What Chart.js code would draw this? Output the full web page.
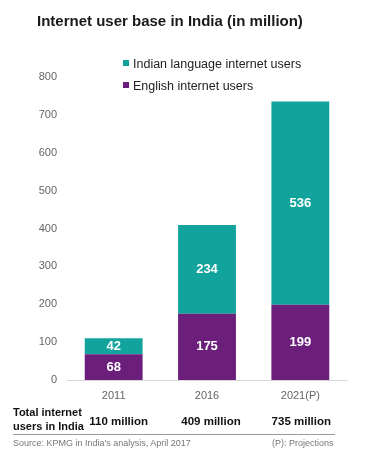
<!DOCTYPE html>
<html>
<head>
<meta charset="utf-8">
<script src="https://cdn.jsdelivr.net/npm/chart.js@4.4.0/dist/chart.umd.min.js"></script>
<style>
  body { margin: 0; background: #fff; font-family: "Liberation Sans", Arial, sans-serif; }
  #wrap { position: relative; width: 377px; height: 463px; overflow: hidden; }
  #c { position: absolute; left: 0; top: 0; }
  .title { position: absolute; left: 37px; top: 12px; font-size: 15px; font-weight: bold; color: #1a1a1a; white-space: nowrap; }
  .leg { position: absolute; left: 123px; font-size: 12.5px; color: #222; white-space: nowrap; }
  .leg span { display: inline-block; width: 6px; height: 6px; margin-right: 4px; vertical-align: 2px; }
  .rowhead { position: absolute; left: 13px; top: 405px; font-size: 11px; font-weight: bold; line-height: 14px; color: #111; }
  .total { position: absolute; top: 415px; font-size: 11.5px; font-weight: bold; color: #111; white-space: nowrap; transform: translateX(-50%); }
  .rule { position: absolute; left: 13px; top: 434px; width: 322px; height: 1px; background: #9a9a9a; }
  .note { position: absolute; top: 438px; font-size: 9px; color: #777; white-space: nowrap; }
</style>
</head>
<body>
<div id="wrap">
  <canvas id="c" width="377" height="463"></canvas>
  <div class="title">Internet user base in India (in million)</div>
  <div class="leg" style="top:57px"><span style="background:#12a39c"></span>Indian language internet users</div>
  <div class="leg" style="top:79px"><span style="background:#6b1f7b"></span>English internet users</div>
  <div class="rowhead">Total internet<br>users in India</div>
  <div id="totals"></div>
  <div class="rule"></div>
  <div class="note" style="left:13px">Source: KPMG in India's analysis, April 2017</div>
  <div class="note" style="left:272px">(P): Projections</div>
</div>
<script>
const years = ['2011', '2016', '2021(P)'];
const english = [68, 175, 199];
const indian = [42, 234, 536];
const totals = [110, 409, 735];

const teal = '#12a39c';
const purple = '#6b1f7b';

// white numbers in the middle of each segment
const segLabels = {
  id: 'segLabels',
  afterDatasetsDraw(chart) {
    const ctx = chart.ctx;
    ctx.save();
    ctx.fillStyle = '#fff';
    ctx.font = 'bold 13px "Liberation Sans", Arial, sans-serif';
    ctx.textAlign = 'center';
    ctx.textBaseline = 'middle';
    chart.data.datasets.forEach((ds, i) => {
      chart.getDatasetMeta(i).data.forEach((bar, j) => {
        const p = bar.getProps(['x', 'y', 'base'], true);
        ctx.fillText(ds.data[j], p.x, (p.y + p.base) / 2);
      });
    });
    ctx.restore();
  }
};

const chart = new Chart(document.getElementById('c'), {
  type: 'bar',
  data: {
    labels: years,
    datasets: [
      { label: 'English internet users', data: english, backgroundColor: purple },
      { label: 'Indian language internet users', data: indian, backgroundColor: teal }
    ]
  },
  options: {
    responsive: false,
    animation: false,
    layout: { padding: { top: 77, bottom: 58, left: 0, right: 30 } },
    plugins: { legend: { display: false }, tooltip: { enabled: false } },
    datasets: { bar: { barPercentage: 1, categoryPercentage: 0.62 } },
    scales: {
      x: {
        stacked: true,
        grid: { display: false },
        border: { color: '#d9d9d9', width: 1 },
        ticks: { color: '#666', font: { size: 11 }, padding: 1 },
        afterFit: s => { s.height = 25; }
      },
      y: {
        stacked: true,
        min: 0,
        max: 800,
        grid: { display: false },
        border: { display: false },
        ticks: { stepSize: 100, color: '#666', font: { size: 11 }, padding: 2 },
        afterFit: s => { s.width = 67; }
      }
    }
  },
  plugins: [segLabels]
});

const box = document.getElementById('totals');
const shift = [5, 4, 1];
totals.forEach((t, i) => {
  const d = document.createElement('div');
  d.className = 'total';
  d.style.left = (chart.scales.x.getPixelForValue(i) + shift[i]) + 'px';
  d.textContent = t + ' million';
  box.appendChild(d);
});
</script>
</body>
</html>
